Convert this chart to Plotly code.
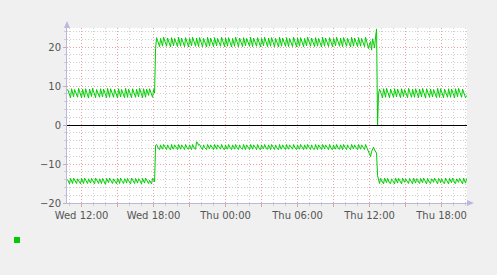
import plotly.graph_objects as go
from datetime import datetime, timedelta

# ---------------- data ----------------
start_time = datetime(2026, 4, 15, 10, 50, 0)   # first 5-min sample
step_minutes = 5
range_start = "2026-04-15 10:47:09"
range_end = "2026-04-16 20:07:09"

# out (+) bits per second, one value per 5 minutes
out_bps = [
    # low phase
    9.2,8.4,7.6,7.0, 9.3,8.2,7.2, 9.1,8.5,7.7,7.1, 9.4,8.6,7.8,7.0, 9.2,8.1,7.1,
    9.3,8.4,7.7,6.9, 9.2,8.2,7.3, 9.4,8.5,7.6,7.0, 9.1,8.3,7.6,7.1, 9.3,8.1,7.2,
    9.2,8.5,7.7,7.0, 9.4,8.2,7.1, 9.3,8.6,7.8,7.1, 9.2,8.4,7.6,6.9, 9.3,8.1,7.2,
    9.1,8.4,7.7,7.0, 9.4,8.3,7.1, 9.2,8.5,7.6,7.0, 9.3,8.4,7.7,7.1, 9.2,8.2,7.2,
    9.4,8.5,7.8,7.0, 9.3,8.1,7.1, 9.2,8.4,7.6, 9.3,8.5,7.7,7.1, 9.1,8.2,
    # jump
    19.6,
    # high phase
    22.4,21.6,20.8,20.1, 22.2,21.1,20.2, 22.5,21.7,20.9,20.2, 22.3,21.5,20.7,20.0, 22.4,21.2,20.3,
    22.2,21.5,20.8,20.1, 22.5,21.3,20.2, 22.3,21.6,20.9,20.1, 22.4,21.5,20.6,20.0, 22.2,21.1,20.3,
    22.5,21.7,20.9,20.2, 22.3,21.2,20.1, 22.4,21.6,20.8,20.1, 22.2,21.4,20.7,20.0, 22.5,21.3,20.2,
    22.3,21.6,20.8,20.1, 22.4,21.2,20.3, 22.2,21.5,20.9,20.2, 22.5,21.7,20.8,20.1, 22.3,21.1,20.2,
    22.4,21.5,20.7,20.0, 22.2,21.3,20.2, 22.5,21.6,20.9,20.1, 22.3,21.4,20.8,20.1, 22.4,21.2,20.3,
    22.2,21.6,20.8,20.2, 22.5,21.1,20.1, 22.3,21.7,20.9,20.2, 22.4,21.5,20.6,20.0, 22.2,21.2,20.3,
    22.5,21.6,20.8,20.1, 22.3,21.3,20.2, 22.4,21.5,20.8,20.1, 22.2,21.6,20.7,20.0, 22.5,21.1,20.2,
    22.3,21.7,20.9,20.2, 22.4,21.2,20.1, 22.2,21.5,20.8,20.1, 22.5,21.6,20.7,20.0, 22.3,21.3,20.2,
    22.4,21.5,20.8,20.1, 22.2,21.2,20.3, 22.5,21.7,20.9,20.2, 22.3,21.5,20.8,20.1, 22.4,21.1,20.2,
    22.2,21.6,20.7,20.0, 22.5,21.3,20.2, 22.3,21.6,20.9,20.1, 22.4,21.4,20.8,20.1, 22.2,21.2,20.3,
    22.5,21.7,20.8,20.2, 22.3,21.1,20.1, 22.4,21.5,20.8,20.2, 22.2,21.6,20.7,20.0, 22.5,21.2,20.2,
    22.3,21.5,20.8,20.1, 22.4,21.3,20.2, 22.2,21.6,20.9,20.1, 22.5,21.4,20.6,19.6, 20.8,21.4,19.2,
    22.1,21.0,19.8,22.6,
    # spike and drop
    24.64, 0.0,
    # low phase
    8.1,9.2,8.4,7.6,7.0, 9.3,8.2,7.1, 9.4,8.5,7.7,7.0, 9.2,8.3,7.6,7.1, 9.3,8.1,
    7.2,9.2,8.4,7.7,7.0, 9.3,8.2,7.3, 9.1,8.5,7.6,7.0, 9.4,8.4,7.7,7.1, 9.2,8.1,
    7.1,9.3,8.5,7.8,7.0, 9.2,8.1,7.2, 9.4,8.4,7.6,6.9, 9.3,8.5,7.7,7.1, 9.2,8.2,
    7.2,9.1,8.4,7.6,7.0, 9.4,8.3,7.1, 9.3,8.5,7.7,7.0, 9.2,8.4,7.6,7.1, 9.3,8.1,
    7.1,9.2,8.5,7.7,7.0, 9.3,8.2,7.2, 9.4,8.6,7.8,7.1, 9.2,8.4,7.6,7.0, 7.54,
]

# in (-) bits per second (drawn below zero)
in_bps = [
    14.0,14.8,15.1,13.7, 14.2,15.0,13.6, 14.1,14.7,15.0,13.8, 14.3,14.9,15.1,13.7, 14.2,15.0,13.6,
    14.0,14.6,15.0,13.8, 14.3,14.9,13.7, 14.1,14.8,15.1,13.6, 14.2,14.7,15.0,13.8, 14.3,15.0,13.7,
    14.1,14.9,15.18,13.7, 14.2,14.8,13.6, 14.0,14.7,15.0,13.8, 14.3,14.9,15.1,13.7, 14.1,15.0,13.6,
    14.2,14.8,15.0,13.8, 14.0,14.9,13.7, 14.3,14.7,15.1,13.6, 14.1,14.8,15.0,13.7, 14.2,14.9,13.8,
    14.0,14.7,15.1,13.7, 14.3,14.9,13.6, 14.1,14.8,15.0, 14.2,14.9,15.1,13.7, 14.0,14.6,
    5.3,
    5.0,5.6,6.1,6.3, 5.1,5.8,6.2, 5.0,5.5,6.0,6.3, 5.1,5.7,6.2,6.3, 5.0,5.9,6.2,
    5.1,5.6,6.0,6.3, 5.0,5.8,6.2, 5.1,5.5,6.1,6.3, 5.0,5.7,6.1,6.2, 5.1,5.8,6.3,
    5.0,5.7,6.1,6.2, 4.3,4.6,5.2, 5.0,5.6,6.0,6.3, 5.1,5.8,6.2,6.3, 5.0,5.7,6.1,
    5.1,5.6,6.1,6.3, 5.0,5.8,6.2, 5.1,5.5,6.0,6.2, 5.0,5.7,6.2,6.3, 5.1,5.9,6.2,
    5.0,5.6,6.0,6.3, 5.1,5.7,6.2, 5.0,5.6,6.1,6.3, 5.1,5.8,6.1,6.2, 5.0,5.7,6.3,
    5.1,5.5,6.1,6.3, 5.0,5.8,6.2, 5.1,5.6,6.0,6.3, 5.0,5.7,6.2,6.3, 5.1,5.8,6.1,
    5.0,5.6,6.1,6.2, 5.1,5.7,6.3, 5.0,5.5,6.0,6.3, 5.1,5.8,6.2,6.3, 5.0,5.9,6.2,
    5.1,5.7,6.0,6.3, 5.0,5.8,6.2, 5.1,5.6,6.1,6.2, 5.0,5.7,6.1,6.3, 5.1,5.8,6.2,
    5.0,5.5,6.1,6.3, 5.1,5.7,6.2, 5.0,5.6,6.0,6.3, 5.1,5.8,6.2,6.2, 5.0,5.7,6.3,
    5.1,5.6,6.0,6.3, 5.0,5.8,6.1, 5.1,5.5,6.1,6.3, 5.0,5.7,6.2,6.3, 5.1,5.9,6.2,
    5.0,5.7,6.1,6.2, 5.1,5.6,6.3, 5.0,5.8,6.0,6.3, 5.1,5.7,6.2,6.3, 5.0,5.6,6.1,
    5.1,5.8,6.0,6.3, 5.0,5.7,6.2, 5.1,5.6,6.1,6.3, 5.0,5.7,6.3,6.9, 7.6,8.1,6.8,
    6.2,5.7,6.4,7.0,
    7.2, 13.0,
    14.6,15.0,13.7,14.2, 14.9,15.1,13.6, 14.1,14.8,13.7, 14.3,14.9,15.0,13.8, 14.2,14.7,15.1,13.6,
    14.1,14.9,13.7, 14.3,14.8,15.1,13.6, 14.0,14.7,13.8, 14.2,14.9,15.0,13.7, 14.1,14.8,15.1,13.6,
    14.3,14.9,13.8, 14.0,14.7,15.0,13.7, 14.2,14.8,13.6, 14.1,14.9,15.1,13.7, 14.3,14.8,15.0,13.8,
    14.1,14.7,13.6, 14.2,14.9,15.1,13.7, 14.0,14.8,13.8, 14.3,14.9,15.0,13.6, 14.1,14.7,15.1,13.7,
    14.2,14.8,13.6, 14.0,14.9,15.0,13.8, 14.3,14.7,13.7, 14.1,14.8,15.1,13.6, 14.2,14.9,13.72,
]

tick_vals = ["2026-04-15 12:00", "2026-04-15 15:00", "2026-04-15 18:00", "2026-04-15 21:00",
             "2026-04-16 00:00", "2026-04-16 03:00", "2026-04-16 06:00", "2026-04-16 09:00",
             "2026-04-16 12:00", "2026-04-16 15:00", "2026-04-16 18:00"]
tick_text = ["Wed 12:00", "", "Wed 18:00", "", "Thu 00:00", "", "Thu 06:00", "",
             "Thu 12:00", "", "Thu 18:00"]
y_ticks = [-20, -10, 0, 10, 20]

title_text = "Interface wg_test traffic - by day"
y_title = "bits in (-) / out (+) per second"
legend_name = "bps"
stat_headers = ["Cur (-/+)", "Min (-/+)", "Avg (-/+)", "Max (-/+)"]
stat_values = ["13.72 /  7.54", "4.30 /   0.00", "9.44 / 15.35", "15.18 / 24.64"]
last_update = "Last update: Thu Apr 16 20:07:09 2026"
munin_ver = "Munin 2.0.67"
side_text = "RRDTOOL / TOBI OETIKER"

# ---------------- figure ----------------
W, H = 497, 275
L, R, T, B = 67, 30, 28, 72
PW, PH = W - L - R, H - T - B


def px(x):
    return (x - L) / PW


def py(y):
    return (H - B - y) / PH


t_out = [start_time + timedelta(minutes=step_minutes * i) for i in range(len(out_bps))]
t_in = [start_time + timedelta(minutes=step_minutes * i) for i in range(len(in_bps))]

GREEN = "#00CC00"
fig = go.Figure()
fig.add_trace(go.Scatter(x=t_in, y=[-v for v in in_bps], mode="lines",
                         line=dict(color=GREEN, width=1), hoverinfo="skip"))
fig.add_trace(go.Scatter(x=t_out, y=out_bps, mode="lines",
                         line=dict(color=GREEN, width=1), hoverinfo="skip"))

MAJ = "#E8A0A0"
MIN = "#CFCFCF"
AX = "#B8B8E0"
TXT = "#555555"

fig.update_layout(
    width=W, height=H,
    margin=dict(l=L, r=R, t=T, b=B, pad=0),
    paper_bgcolor="#F0F0F0", plot_bgcolor="#FFFFFF",
    showlegend=False,
    font=dict(family="DejaVu Sans", size=10, color=TXT),
    xaxis=dict(
        type="date", range=[range_start, range_end],
        tickmode="array", tickvals=tick_vals, ticktext=tick_text,
        showgrid=True, gridcolor=MAJ, griddash="1px,2px", gridwidth=1,
        ticks="outside", ticklen=3, tickcolor=MAJ,
        showline=True, linecolor=AX, linewidth=1,
        zeroline=False, tickfont=dict(size=10, color=TXT),
        minor=dict(dtick=3600000, showgrid=True, gridcolor=MIN, griddash="1px,2px",
                   ticks="outside", ticklen=2, tickcolor=MIN),
    ),
    yaxis=dict(
        range=[-20, -20 + PH / 3.9], tickmode="array", tickvals=y_ticks,
        showgrid=True, gridcolor=MAJ, griddash="1px,2px", gridwidth=1,
        ticks="outside", ticklen=3, tickcolor=MAJ,
        showline=True, linecolor=AX, linewidth=1,
        zeroline=True, zerolinecolor="#000000", zerolinewidth=1,
        tickfont=dict(size=10, color=TXT),
        minor=dict(dtick=2, showgrid=True, gridcolor=MIN, griddash="1px,2px",
                   ticks="outside", ticklen=2, tickcolor=MIN),
    ),
)

ann = []
ann.append(dict(x=px(248), y=py(19), text=title_text, showarrow=False,
                xanchor="center", yanchor="middle",
                font=dict(family="DejaVu Sans", size=13, color=TXT)))
ann.append(dict(x=px(10), y=py(115), text=y_title, showarrow=False, textangle=-90,
                xanchor="center", yanchor="middle",
                font=dict(family="DejaVu Sans", size=10, color=TXT)))
ann.append(dict(x=px(488), y=py(4), text=side_text, showarrow=False, textangle=90,
                xanchor="center", yanchor="top",
                font=dict(family="DejaVu Sans", size=7, color="#C4C4C4")))

MONO = "DejaVu Sans Mono"
DARK = "#333333"
nb = lambda s: s.replace(" ", "\u00a0")
header_x = [88, 200, 311, 422]
value_x = [72, 186, 294, 396]
for hx, h in zip(header_x, stat_headers):
    ann.append(dict(x=px(hx), y=py(227), text=nb(h), showarrow=False,
                    xanchor="left", yanchor="middle",
                    font=dict(family=MONO, size=10, color=DARK)))
for vx, v in zip(value_x, stat_values):
    ann.append(dict(x=px(vx), y=py(240), text=nb(v), showarrow=False,
                    xanchor="left", yanchor="middle",
                    font=dict(family=MONO, size=10, color=DARK)))
ann.append(dict(x=px(26), y=py(240), text=legend_name, showarrow=False,
                xanchor="left", yanchor="middle",
                font=dict(family=MONO, size=10, color=DARK)))
ann.append(dict(x=px(261), y=py(252), text=nb(last_update), showarrow=False,
                xanchor="left", yanchor="middle",
                font=dict(family=MONO, size=10, color=DARK)))
ann.append(dict(x=px(248), y=py(263), text=munin_ver, showarrow=False,
                xanchor="center", yanchor="middle",
                font=dict(family="DejaVu Sans", size=8, color="#C4C4C4")))
fig.update_layout(annotations=ann)

shapes = []
# legend swatch
shapes.append(dict(type="rect", xref="paper", yref="paper",
                   x0=px(14), x1=px(20), y0=py(243), y1=py(237),
                   fillcolor=GREEN, line=dict(width=0)))
# axis arrows
shapes.append(dict(type="path", xref="paper", yref="paper",
                   path=f"M {px(64)} {py(28)} L {px(70)} {py(28)} L {px(67)} {py(21)} Z",
                   fillcolor=AX, line=dict(width=0)))
shapes.append(dict(type="path", xref="paper", yref="paper",
                   path=f"M {px(467)} {py(200)} L {px(467)} {py(206)} L {px(474)} {py(203)} Z",
                   fillcolor=AX, line=dict(width=0)))
fig.update_layout(shapes=shapes)

fig.write_html("out.html")
